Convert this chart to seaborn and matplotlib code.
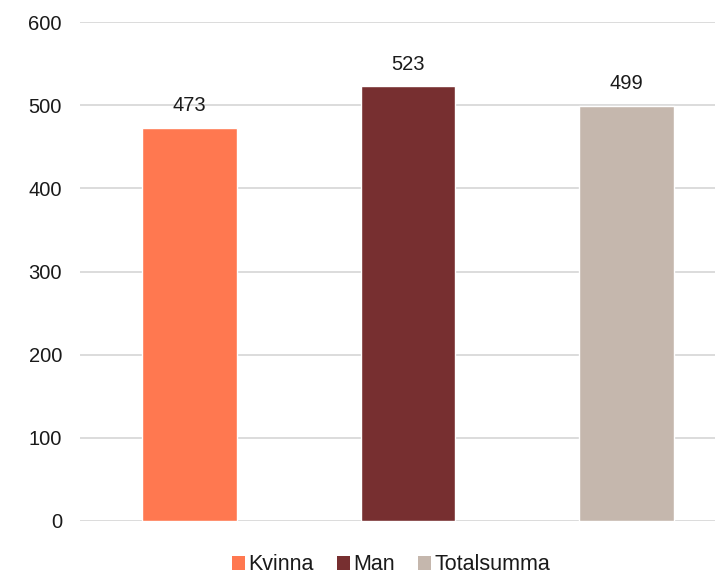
import matplotlib
matplotlib.use("Agg")
import matplotlib.pyplot as plt
import seaborn as sns
import pandas as pd
from matplotlib.patches import Patch

categories = ["Kvinna", "Man", "Totalsumma"]
values = [473, 523, 499]
colors = ["#FF7850", "#772F30", "#C5B7AD"]
yticks = [0, 100, 200, 300, 400, 500, 600]

sns.set_theme(style="white")
plt.rcParams['font.family'] = ['Liberation Sans', 'DejaVu Sans']

df = pd.DataFrame({"cat": categories, "val": values})

fig = plt.figure(figsize=(7.15, 5.77), dpi=100)
ax = fig.add_axes([80/715, 1-521/577, 1-80/715, (521-22)/577])

sns.barplot(data=df, x="cat", y="val", hue="cat", palette=colors, dodge=False,
            width=0.434, legend=False, ax=ax, saturation=1)

ax.set_ylim(0, 600)
ax.set_xlim(-0.5, 2.404)
ax.set_yticks(yticks)
ax.set_yticklabels([str(t) for t in yticks], fontsize=14.5, color="#1a1a1a")
ax.set_xticks([])
ax.set_xlabel("")
ax.set_ylabel("")
ax.yaxis.grid(True, color="#D9D9D9", linewidth=1.3)
ax.set_axisbelow(True)
for s in ax.spines.values():
    s.set_visible(False)
ax.tick_params(axis="y", length=0, pad=13)

for i, v in enumerate(values):
    ax.annotate(str(v), (i, v), xytext=(0, 9), textcoords="offset points",
                ha="center", va="bottom", fontsize=14.5, color="#1a1a1a")

handles = [Patch(facecolor=c, edgecolor="none") for c in colors]
fig.legend(handles, categories, loc="center", bbox_to_anchor=(391/715, 1 - 565/577),
           ncol=3, frameon=False, fontsize=15.5, handlelength=0.6, handleheight=0.6,
           handletextpad=0.15, columnspacing=1.1, labelcolor="#1a1a1a",
           borderpad=0.1)

fig.savefig("out.png", dpi=100)
